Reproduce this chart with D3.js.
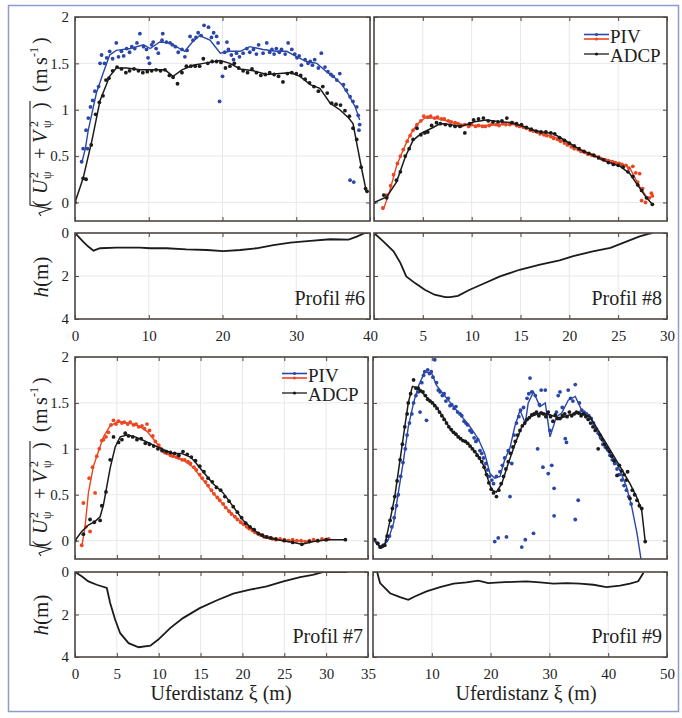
<!DOCTYPE html>
<html>
<head>
<meta charset="utf-8">
<title>Profile PIV / ADCP</title>
<script src="https://cdn.jsdelivr.net/npm/d3@7"></script>
<style>
  body { margin: 0; background: #fff; }
</style>
</head>
<body>
<svg id="chart" width="682" height="718" font-family="Liberation Serif"></svg>
<script>
// ---------- data (x = Uferdistanz in m, v = velocity in m/s, h = depth in m) ----------
var velTicks = [0, 0.5, 1, 1.5, 2];
var depthTicks = [0, 2, 4];
var xTicks6 = [0, 10, 20, 30, 40];
var xTicks8 = [0, 5, 10, 15, 20, 25, 30];
var xTicks7 = [0, 5, 10, 15, 20, 25, 30, 35];
var xTicks9 = [0, 10, 20, 30, 40, 50];

// Profil #6
var p6PivLine = [[0.9,0.42],[1.4,0.58],[1.8,0.78],[2.3,0.96],[2.9,1.18],[3.8,1.39],[4.7,1.59],[5.6,1.64],[7.5,1.66],[9.3,1.70],[10.2,1.66],[11.5,1.73],[12.9,1.72],[14.2,1.66],[14.9,1.63],[15.8,1.72],[16.9,1.80],[18.3,1.75],[19.2,1.66],[19.7,1.61],[21.0,1.63],[22.4,1.63],[23.7,1.68],[25.5,1.65],[27.3,1.63],[28.7,1.63],[30.1,1.57],[31.4,1.52],[32.8,1.50],[34.1,1.41],[35.3,1.34],[36.2,1.27],[37.1,1.16],[38.0,1.03],[38.6,0.89]];
var p6PivPts = [[0.9,0.44],[1.1,0.58],[1.5,0.78],[1.7,0.58],[1.8,0.91],[2.1,1.03],[2.4,1.10],[2.7,1.20],[3.2,1.25],[3.4,1.50],[3.6,1.59],[4.0,1.50],[4.3,1.56],[4.7,1.63],[5.1,1.55],[5.6,1.72],[5.9,1.57],[6.3,1.63],[6.6,1.58],[7.0,1.66],[7.4,1.62],[7.7,1.68],[8.1,1.66],[8.4,1.72],[8.8,1.82],[9.3,1.68],[9.7,1.65],[9.9,1.56],[10.1,1.50],[10.4,1.70],[10.6,1.73],[11.0,1.66],[11.3,1.61],[11.8,1.75],[11.9,1.82],[12.4,1.73],[12.9,1.72],[13.2,1.70],[13.6,1.68],[14.0,1.62],[14.5,1.65],[14.9,1.57],[15.2,1.64],[15.6,1.79],[16.0,1.75],[16.4,1.78],[16.7,1.83],[17.1,1.80],[17.5,1.91],[18.1,1.89],[18.5,1.78],[18.8,1.83],[19.2,1.79],[19.4,1.72],[19.6,1.09],[20.0,1.36],[20.3,1.62],[20.6,1.73],[20.8,1.65],[21.2,1.59],[21.5,1.54],[21.9,1.61],[22.3,1.57],[22.8,1.61],[23.3,1.66],[23.7,1.62],[24.2,1.65],[24.6,1.60],[24.9,1.70],[25.5,1.61],[26.0,1.72],[26.4,1.62],[26.7,1.65],[27.0,1.60],[27.3,1.66],[27.7,1.62],[28.0,1.65],[28.5,1.60],[28.9,1.72],[29.4,1.65],[29.8,1.60],[30.1,1.56],[30.4,1.58],[30.7,1.48],[31.2,1.54],[31.6,1.50],[31.9,1.52],[32.2,1.48],[32.5,1.54],[33.0,1.45],[33.4,1.61],[33.9,1.46],[34.3,1.41],[34.7,1.38],[35.0,1.36],[35.5,1.32],[35.9,1.39],[36.4,1.27],[36.8,1.21],[37.3,1.14],[37.3,0.24],[37.7,1.09],[37.8,0.22],[38.2,1.03],[38.4,0.94],[38.6,0.84],[38.5,0.78]];
var p6AdcpLine = [[0,0],[1.1,0.26],[2.3,0.67],[3.4,1.10],[4.7,1.36],[5.6,1.45],[7.0,1.45],[8.8,1.43],[10.6,1.43],[12.2,1.43],[13.3,1.36],[14.5,1.43],[16.0,1.48],[17.4,1.50],[19.7,1.53],[21.0,1.50],[22.4,1.44],[24.2,1.42],[26.0,1.38],[27.8,1.39],[29.2,1.40],[30.5,1.36],[31.9,1.27],[33.2,1.23],[34.6,1.07],[35.9,1.00],[37.1,0.91],[37.7,0.85],[38.2,0.64],[38.9,0.35],[39.5,0.12]];
var p6AdcpPts = [[0,0],[1.1,0.26],[1.5,0.25],[2.2,0.62],[2.8,0.95],[3.3,1.08],[3.8,1.15],[4.2,1.32],[4.6,1.34],[5.1,1.42],[5.7,1.46],[6.3,1.44],[6.9,1.40],[7.4,1.42],[8.0,1.44],[8.6,1.42],[9.2,1.40],[9.8,1.41],[10.4,1.42],[11.0,1.43],[11.6,1.42],[12.2,1.43],[12.8,1.37],[13.3,1.35],[13.9,1.28],[14.5,1.40],[15.1,1.47],[15.7,1.47],[16.3,1.47],[16.9,1.47],[17.4,1.55],[18.0,1.50],[18.6,1.52],[19.2,1.52],[19.8,1.51],[20.4,1.45],[21.0,1.47],[21.6,1.50],[22.2,1.45],[22.8,1.42],[23.4,1.40],[24.0,1.44],[24.6,1.40],[25.2,1.37],[25.8,1.38],[26.4,1.40],[27.0,1.38],[27.6,1.36],[28.2,1.30],[28.8,1.39],[29.4,1.40],[30.0,1.39],[30.6,1.37],[31.2,1.33],[31.8,1.29],[32.4,1.25],[33.0,1.20],[33.6,1.25],[34.2,1.18],[34.8,1.07],[35.4,1.06],[36.0,1.05],[36.6,0.99],[37.2,0.93],[37.7,0.80],[38.2,0.68],[38.8,0.38],[39.4,0.15],[39.6,0.12]];
var p6Depth = [[0,0],[1.1,0.40],[1.8,0.63],[2.5,0.82],[3.4,0.71],[5.6,0.68],[8.8,0.68],[10.2,0.71],[12.4,0.71],[15.1,0.76],[17.9,0.79],[20.1,0.84],[22.4,0.79],[24.6,0.71],[26.9,0.56],[29.2,0.45],[31.9,0.37],[34.6,0.29],[37.1,0.31],[38.2,0.17],[39.3,0.0],[39.8,0.0]];

// Profil #8
var p8PivLine = [[0.95,-0.08],[1.6,0.12],[2.3,0.39],[3.0,0.57],[3.7,0.73],[4.4,0.84],[5.2,0.91],[6.1,0.91],[7.1,0.89],[8.1,0.86],[9.1,0.84],[10.2,0.83],[11.5,0.83],[12.9,0.84],[14.3,0.84],[15.3,0.82],[16.6,0.76],[18.4,0.71],[20.1,0.62],[21.8,0.54],[23.5,0.47],[25.2,0.42],[26.2,0.37],[27.2,0.17],[28.1,0.03]];
var p8PivPts = [[0.9,-0.06],[1.3,0.08],[1.7,0.18],[2.0,0.30],[2.4,0.42],[2.7,0.50],[3.0,0.57],[3.4,0.66],[3.7,0.72],[4.0,0.78],[4.4,0.84],[4.8,0.88],[5.1,0.93],[5.5,0.92],[5.8,0.93],[6.2,0.91],[6.5,0.92],[6.9,0.90],[7.2,0.90],[7.6,0.88],[7.9,0.87],[8.3,0.86],[8.6,0.85],[9.0,0.83],[9.3,0.84],[9.7,0.82],[10.0,0.84],[10.4,0.82],[10.7,0.83],[11.1,0.82],[11.4,0.82],[11.8,0.83],[12.1,0.85],[12.5,0.84],[12.8,0.83],[13.2,0.85],[13.5,0.84],[13.9,0.84],[14.2,0.86],[14.6,0.83],[14.9,0.82],[15.3,0.81],[15.6,0.80],[16.0,0.78],[16.3,0.77],[16.7,0.76],[17.0,0.74],[17.4,0.73],[17.7,0.72],[18.1,0.71],[18.4,0.69],[18.8,0.68],[19.1,0.66],[19.5,0.64],[19.8,0.62],[20.2,0.60],[20.5,0.58],[20.9,0.57],[21.2,0.55],[21.6,0.54],[21.9,0.52],[22.3,0.51],[22.6,0.50],[23.0,0.49],[23.3,0.47],[23.7,0.46],[24.0,0.45],[24.4,0.44],[24.7,0.43],[25.1,0.42],[25.4,0.41],[25.8,0.40],[26.1,0.37],[26.5,0.39],[26.8,0.32],[27.2,0.31],[27.0,0.22],[27.5,0.15],[27.4,0.02],[27.8,0.00],[28.2,0.05],[28.4,0.10],[28.5,0.07]];
var p8AdcpLine = [[0,0],[1.3,0.06],[2.3,0.22],[3.2,0.49],[4.0,0.67],[4.9,0.75],[5.9,0.80],[6.8,0.85],[7.8,0.84],[8.8,0.82],[9.5,0.84],[10.3,0.87],[11.5,0.89],[12.9,0.87],[14.1,0.86],[15.3,0.82],[16.6,0.77],[18.4,0.74],[19.7,0.66],[21.1,0.57],[22.4,0.51],[23.8,0.44],[25.2,0.39],[26.2,0.31],[27.1,0.17],[27.9,0.05],[28.5,-0.02]];
var p8AdcpPts = [[0,0],[1.0,0.08],[1.3,0.05],[2.3,0.24],[2.7,0.33],[3.2,0.50],[3.6,0.58],[4.0,0.68],[4.4,0.80],[4.8,0.73],[5.2,0.75],[5.5,0.76],[5.9,0.83],[6.4,0.86],[6.8,0.85],[7.3,0.84],[7.8,0.83],[8.3,0.82],[8.8,0.82],[9.3,0.75],[9.8,0.85],[10.2,0.89],[10.7,0.90],[11.2,0.91],[11.7,0.88],[12.2,0.87],[12.7,0.87],[13.1,0.88],[13.6,0.91],[14.1,0.86],[14.6,0.85],[15.1,0.84],[15.6,0.81],[16.1,0.79],[16.6,0.77],[17.1,0.76],[17.6,0.76],[18.1,0.75],[18.5,0.74],[19.0,0.70],[19.5,0.67],[20.0,0.64],[20.5,0.61],[21.0,0.58],[21.5,0.55],[22.0,0.53],[22.5,0.51],[23.0,0.48],[23.5,0.46],[24.0,0.43],[24.5,0.41],[25.0,0.40],[25.5,0.38],[26.0,0.33],[26.5,0.28],[27.0,0.19],[27.4,0.13],[27.9,0.05],[28.5,-0.02]];
var p8Depth = [[0,0],[0.95,0.39],[2.0,0.85],[2.7,1.39],[3.3,2.02],[4.2,2.33],[5.2,2.64],[6.2,2.87],[7.3,2.98],[7.8,2.98],[8.6,2.92],[9.8,2.64],[11.2,2.36],[12.9,2.02],[14.9,1.71],[17.0,1.47],[19.0,1.27],[20.4,1.08],[22.4,0.85],[24.2,0.69],[25.9,0.39],[27.2,0.16],[28.2,0.03],[28.5,0]];

// Profil #7
var p7PivLine = [[0.8,-0.07],[1.2,0.15],[1.6,0.52],[2.2,0.81],[2.8,0.97],[3.4,1.13],[4.2,1.25],[5.2,1.30],[6.4,1.28],[7.6,1.25],[8.6,1.19],[9.6,1.08],[10.6,0.97],[11.7,0.92],[12.9,0.88],[14.1,0.80],[15.3,0.66],[16.5,0.52],[17.7,0.39],[18.9,0.28],[20.1,0.18],[21.3,0.11],[22.9,0.04],[24.5,0.01],[26.1,0.0],[28.0,-0.01],[29.3,0.0],[30.3,0.01]];
var p7PivPts = [[0.8,-0.05],[1.0,0.41],[1.3,0.15],[1.7,0.68],[1.8,0.10],[2.1,0.80],[2.4,0.52],[2.6,0.92],[2.9,1.00],[3.2,1.09],[3.4,1.10],[3.7,1.13],[4.0,1.18],[4.3,1.26],[4.6,1.31],[4.9,1.27],[5.2,1.30],[5.6,1.28],[5.9,1.29],[6.3,1.27],[6.6,1.29],[7.0,1.26],[7.3,1.27],[7.6,1.24],[8.0,1.25],[8.3,1.22],[8.6,1.27],[8.9,1.20],[9.3,1.14],[9.6,1.08],[10.0,1.04],[10.3,1.00],[10.7,0.96],[11.0,0.95],[11.4,0.93],[11.7,0.92],[12.1,0.91],[12.4,0.90],[12.8,0.88],[13.1,0.88],[13.5,0.86],[13.8,0.84],[14.2,0.80],[14.5,0.77],[14.9,0.72],[15.2,0.68],[15.6,0.64],[15.9,0.60],[16.3,0.55],[16.6,0.51],[17.0,0.47],[17.3,0.44],[17.7,0.40],[18.0,0.36],[18.4,0.32],[18.7,0.29],[19.1,0.26],[19.4,0.23],[19.8,0.20],[20.1,0.18],[20.5,0.15],[20.8,0.13],[21.2,0.11],[21.5,0.09],[21.9,0.07],[22.2,0.06],[22.6,0.04],[22.9,0.04],[23.3,0.03],[23.6,0.02],[24.0,0.01],[24.5,0.02],[25.0,0.01],[25.5,0.00],[26.0,0.01],[26.5,0.00],[27.0,0.00],[27.5,-0.01],[28.0,0.00],[28.5,0.01],[29.0,0.00],[29.5,0.02],[30.0,0.01],[30.3,0.02]];
var p7AdcpLine = [[0,0],[0.8,0.10],[1.6,0.17],[2.4,0.21],[3.0,0.26],[3.4,0.39],[3.8,0.59],[4.2,0.79],[4.8,1.02],[5.4,1.13],[6.2,1.15],[7.2,1.13],[8.2,1.09],[9.4,1.04],[10.6,0.99],[11.7,0.95],[12.7,0.95],[13.8,0.91],[14.5,0.84],[15.3,0.75],[16.5,0.62],[17.7,0.52],[18.9,0.37],[20.1,0.22],[21.3,0.12],[22.5,0.04],[24.1,0.01],[26.1,-0.02],[27.1,-0.04],[28.5,-0.01],[30.1,0.01],[32.3,0.01]];
var p7AdcpPts = [[0,0],[1.0,0.07],[1.8,0.23],[2.3,0.20],[3.0,0.22],[3.2,0.38],[3.7,0.53],[4.2,0.88],[4.6,1.13],[5.2,1.07],[5.6,1.10],[6.0,1.17],[6.4,1.14],[6.9,1.13],[7.4,1.10],[7.9,1.11],[8.4,1.06],[8.9,1.05],[9.4,1.03],[9.9,1.00],[10.4,0.98],[10.9,0.97],[11.4,0.96],[11.9,0.95],[12.4,0.93],[12.9,0.97],[13.4,0.94],[13.9,0.91],[14.4,0.87],[14.9,0.81],[15.4,0.75],[15.9,0.68],[16.4,0.64],[16.9,0.58],[17.4,0.55],[17.9,0.48],[18.4,0.43],[18.9,0.37],[19.4,0.31],[19.9,0.25],[20.4,0.19],[20.9,0.15],[21.4,0.12],[21.9,0.08],[22.4,0.06],[22.9,0.04],[23.4,0.03],[24.0,0.02],[25.0,0.00],[26.0,-0.02],[27.1,-0.04],[28.0,-0.01],[29.0,0.0],[30.0,0.01],[32.3,0.01]];
var p7Depth = [[0,0],[0.8,0.20],[1.6,0.44],[2.6,0.60],[3.8,0.75],[4.2,1.46],[4.8,2.25],[5.4,2.88],[6.4,3.35],[7.6,3.54],[9.0,3.47],[9.95,3.18],[11.4,2.63],[12.9,2.17],[14.9,1.70],[16.9,1.34],[18.9,1.02],[20.9,0.83],[22.9,0.68],[24.9,0.44],[26.9,0.24],[28.4,0.13],[29.7,0],[31.0,0],[32.5,0]];

// Profil #9
var p9PivLine = [[0.3,-0.01],[1.5,-0.08],[2.6,0.01],[3.5,0.19],[4.3,0.52],[5.2,0.88],[6.0,1.24],[6.9,1.50],[7.7,1.68],[8.8,1.84],[10.0,1.82],[10.8,1.69],[12.3,1.57],[13.7,1.46],[15.1,1.35],[16.5,1.24],[17.9,1.11],[19.0,0.95],[19.9,0.73],[20.7,0.68],[21.6,0.70],[22.4,0.88],[23.3,1.01],[24.1,1.24],[25.0,1.42],[25.9,1.28],[26.4,1.50],[27.3,1.62],[28.4,1.46],[29.3,1.50],[30.1,1.13],[31.2,1.35],[32.1,1.39],[33.2,1.53],[34.4,1.57],[35.5,1.42],[36.9,1.35],[38.3,1.17],[40.0,0.99],[41.7,0.81],[43.1,0.59],[44.0,0.37],[44.9,0.08],[45.6,-0.21]];
var p9PivPts = [[0.3,0.01],[0.8,-0.03],[1.3,-0.07],[1.8,-0.05],[2.3,0.00],[2.8,0.05],[3.2,0.15],[3.6,0.25],[4.0,0.38],[4.3,0.50],[4.7,0.70],[5.1,0.85],[5.5,1.00],[5.8,1.15],[6.2,1.28],[6.6,1.38],[6.9,1.50],[7.3,1.58],[7.7,1.62],[8.0,1.40],[8.3,1.72],[8.6,1.80],[8.8,1.84],[9.1,1.31],[9.3,1.86],[9.6,1.82],[9.9,1.84],[10.2,1.78],[10.5,1.97],[10.8,1.72],[11.1,1.64],[11.4,1.62],[11.8,1.58],[12.1,1.60],[12.4,1.52],[12.8,1.55],[13.1,1.47],[13.4,1.48],[13.8,1.44],[14.1,1.46],[14.4,1.40],[14.8,1.38],[15.1,1.36],[15.5,1.30],[15.8,1.28],[16.1,1.26],[16.5,1.20],[16.8,1.18],[17.2,1.12],[17.5,1.08],[17.8,1.10],[18.2,0.98],[18.5,0.95],[18.8,0.90],[19.2,0.84],[19.5,0.77],[19.8,0.70],[20.2,0.66],[20.5,0.62],[20.7,-0.01],[21.0,0.70],[21.3,0.03],[21.6,0.75],[22.0,0.82],[22.4,0.90],[22.7,0.04],[23.0,0.98],[23.3,0.48],[23.6,0.84],[24.0,1.15],[24.4,1.28],[24.8,1.35],[25.1,1.42],[25.3,-0.07],[25.6,1.45],[25.9,0.01],[26.2,1.55],[26.5,1.60],[26.7,1.77],[27.0,1.62],[27.3,0.08],[27.6,1.58],[28.0,1.00],[28.3,1.48],[28.6,1.64],[28.9,0.80],[29.3,1.64],[29.6,1.38],[29.8,0.73],[30.1,1.20],[30.4,0.82],[30.8,0.57],[30.8,0.27],[31.2,1.40],[31.5,1.58],[31.8,1.62],[32.2,1.45],[32.7,1.11],[32.9,1.07],[33.2,1.64],[33.6,1.55],[34.0,1.52],[34.4,1.70],[34.4,0.23],[34.9,0.44],[35.1,1.50],[35.5,1.42],[35.9,1.40],[36.3,1.38],[36.7,1.36],[37.1,1.33],[37.5,1.28],[37.9,1.22],[38.3,1.17],[38.7,1.12],[39.1,1.05],[39.5,1.02],[39.9,0.99],[40.3,0.93],[40.7,0.88],[41.1,0.84],[41.5,0.78],[41.9,0.72],[42.3,0.66],[42.7,0.60],[43.1,0.55],[43.5,0.48],[43.9,0.40]];
var p9AdcpLine = [[0.2,0.01],[1.2,-0.07],[2.0,-0.05],[2.9,0.22],[3.7,0.48],[4.6,0.88],[5.4,1.24],[6.0,1.50],[6.7,1.68],[7.7,1.66],[9.0,1.57],[10.5,1.48],[11.9,1.35],[13.4,1.19],[14.8,1.11],[16.2,1.06],[17.6,0.95],[18.8,0.82],[19.6,0.66],[20.2,0.55],[21.0,0.53],[21.9,0.62],[23.0,0.84],[24.2,1.06],[25.3,1.24],[26.7,1.35],[28.4,1.39],[30.1,1.37],[31.8,1.33],[33.5,1.37],[35.2,1.39],[36.9,1.35],[38.6,1.17],[40.3,0.99],[42.0,0.81],[43.7,0.62],[44.8,0.48],[45.7,0.33],[46.3,-0.01]];
var p9AdcpPts = [[0.2,0.01],[0.8,-0.03],[1.2,-0.07],[1.6,-0.06],[2.0,-0.05],[2.4,0.05],[2.9,0.22],[3.3,0.35],[3.7,0.48],[4.1,0.65],[4.6,0.88],[5.0,1.05],[5.4,1.24],[5.8,1.38],[6.0,1.50],[6.4,1.60],[6.9,1.75],[7.3,1.66],[7.7,1.66],[8.1,1.63],[8.5,1.62],[8.9,1.58],[9.3,1.54],[9.7,1.52],[10.1,1.50],[10.5,1.47],[10.9,1.44],[11.3,1.40],[11.7,1.36],[12.1,1.32],[12.5,1.28],[12.9,1.24],[13.3,1.21],[13.7,1.18],[14.1,1.16],[14.5,1.13],[14.9,1.11],[15.3,1.09],[15.7,1.08],[16.1,1.06],[16.5,1.03],[16.9,1.00],[17.3,0.97],[17.7,0.93],[18.1,0.90],[18.5,0.86],[18.9,0.80],[19.3,0.72],[19.7,0.63],[20.1,0.56],[20.5,0.52],[21.0,0.48],[21.4,0.55],[21.8,0.62],[22.2,0.70],[22.6,0.78],[23.0,0.86],[23.4,0.95],[23.8,1.02],[24.2,1.08],[24.6,1.15],[25.0,1.20],[25.4,1.25],[25.8,1.28],[26.2,1.32],[26.6,1.34],[27.0,1.37],[27.4,1.38],[27.8,1.40],[28.2,1.36],[28.6,1.39],[29.0,1.38],[29.4,1.35],[29.8,1.40],[30.2,1.35],[30.6,1.30],[31.0,1.37],[31.4,1.33],[31.8,1.33],[32.2,1.36],[32.6,1.38],[33.0,1.35],[33.4,1.40],[33.8,1.36],[34.2,1.38],[34.6,1.40],[35.0,1.39],[35.4,1.36],[35.8,1.38],[36.2,1.35],[36.6,1.32],[37.0,1.28],[37.4,1.24],[37.8,1.20],[38.3,1.00],[38.6,1.15],[39.0,1.10],[39.4,1.05],[39.8,1.01],[40.2,0.97],[40.6,0.92],[41.0,0.87],[41.5,0.71],[41.9,0.82],[42.3,0.76],[42.7,0.72],[43.1,0.66],[43.3,0.75],[43.7,0.46],[44.1,0.55],[44.5,0.50],[44.9,0.44],[45.3,0.38],[45.7,0.35],[46.3,-0.01]];
var p9Depth = [[0.7,0],[1.2,0.52],[2.9,1.00],[4.6,1.18],[6.0,1.31],[7.1,1.15],[9.1,0.91],[11.4,0.71],[13.7,0.55],[15.9,0.49],[17.9,0.41],[19.6,0.52],[21.6,0.49],[23.9,0.46],[26.1,0.44],[28.4,0.49],[30.7,0.55],[32.9,0.52],[35.2,0.55],[37.5,0.60],[39.7,0.71],[42.0,0.64],[43.7,0.55],[45.1,0.44],[46.0,0.04]];

// ---------- layout ----------
var SERIF = "Liberation Serif";
var INK = "#1e1e1e";
var BLUE = "#2a47a8", RED = "#ec4621", BLACK = "#1b1b1b", BOX = "#4e4744";

var panels = [
  {id: 6, left: 75,  right: 370, vt: 17,  vb: 221, dt: 233, db: 319, xmax: 40, ticks: xTicks6, showY: true,  hideZero: false, tickY: 340,
   pivColor: BLUE, piv: p6PivPts, pivLine: p6PivLine, adcp: p6AdcpPts, adcpLine: p6AdcpLine, depth: p6Depth, label: "Profil #6"},
  {id: 8, left: 374, right: 667, vt: 17,  vb: 221, dt: 233, db: 319, xmax: 30, ticks: xTicks8, showY: false, hideZero: true,  tickY: 340,
   pivColor: RED,  piv: p8PivPts, pivLine: p8PivLine, adcp: p8AdcpPts, adcpLine: p8AdcpLine, depth: p8Depth, label: "Profil #8"},
  {id: 7, left: 75,  right: 368, vt: 357, vb: 559, dt: 572, db: 657, xmax: 35, ticks: xTicks7, showY: true,  hideZero: false, tickY: 678,
   pivColor: RED,  piv: p7PivPts, pivLine: p7PivLine, adcp: p7AdcpPts, adcpLine: p7AdcpLine, depth: p7Depth, label: "Profil #7"},
  {id: 9, left: 373, right: 667, vt: 357, vb: 559, dt: 572, db: 657, xmax: 50, ticks: xTicks9, showY: false, hideZero: true,  tickY: 678,
   pivColor: BLUE, piv: p9PivPts, pivLine: p9PivLine, adcp: p9AdcpPts, adcpLine: p9AdcpLine, depth: p9Depth, label: "Profil #9"}
];

var svg = d3.select("#chart");
svg.append("rect").attr("x", 8.5).attr("y", 5.5).attr("width", 670).attr("height", 706)
  .attr("fill", "none").attr("stroke", "#8c9dcb").attr("stroke-width", 1.5);
var defs = svg.append("defs");

function box(g, x0, y0, x1, y1) {
  g.append("rect").attr("x", x0).attr("y", y0).attr("width", x1 - x0).attr("height", y1 - y0)
    .attr("fill", "none").attr("stroke", BOX).attr("stroke-width", 1.6);
}

function styleAxis(a) {
  a.attr("font-family", SERIF);
  a.select(".domain").remove();
  a.selectAll(".tick line").attr("stroke", BOX).attr("stroke-width", 1);
  a.selectAll(".tick text").attr("font-family", SERIF).attr("font-size", 15).attr("fill", INK);
}

function drawPanel(p) {
  var g = svg.append("g");
  var x = d3.scaleLinear().domain([0, p.xmax]).range([p.left, p.right]);
  var yv = d3.scaleLinear().domain([-0.2, 2]).range([p.vb, p.vt]);
  var yd = d3.scaleLinear().domain([0, 4]).range([p.dt, p.db]);

  // grid
  var grid = g.append("g").attr("stroke", "#e8e8e8").attr("stroke-width", 1);
  p.ticks.forEach(function(t) {
    grid.append("line").attr("x1", x(t)).attr("x2", x(t)).attr("y1", p.vt).attr("y2", p.vb);
    grid.append("line").attr("x1", x(t)).attr("x2", x(t)).attr("y1", p.dt).attr("y2", p.db);
  });
  velTicks.forEach(function(t) {
    grid.append("line").attr("x1", p.left).attr("x2", p.right).attr("y1", yv(t)).attr("y2", yv(t));
  });
  grid.append("line").attr("x1", p.left).attr("x2", p.right).attr("y1", yd(2)).attr("y2", yd(2));

  defs.append("clipPath").attr("id", "cv" + p.id).append("rect")
    .attr("x", p.left).attr("y", p.vt).attr("width", p.right - p.left).attr("height", p.vb - p.vt);
  defs.append("clipPath").attr("id", "cd" + p.id).append("rect")
    .attr("x", p.left).attr("y", p.dt).attr("width", p.right - p.left).attr("height", p.db - p.dt);

  var lv = d3.line().x(function(d) { return x(d[0]); }).y(function(d) { return yv(d[1]); });
  var ld = d3.line().x(function(d) { return x(d[0]); }).y(function(d) { return yd(d[1]); });

  var gv = g.append("g").attr("clip-path", "url(#cv" + p.id + ")");
  gv.selectAll("circle.piv").data(p.piv).enter().append("circle").attr("class", "piv")
    .attr("cx", function(d) { return x(d[0]); }).attr("cy", function(d) { return yv(d[1]); })
    .attr("r", 1.9).attr("fill", p.pivColor);
  gv.append("path").datum(p.pivLine).attr("d", lv).attr("fill", "none")
    .attr("stroke", p.pivColor).attr("stroke-width", 1.4);
  gv.selectAll("circle.adcp").data(p.adcp).enter().append("circle").attr("class", "adcp")
    .attr("cx", function(d) { return x(d[0]); }).attr("cy", function(d) { return yv(d[1]); })
    .attr("r", 1.9).attr("fill", BLACK);
  gv.append("path").datum(p.adcpLine).attr("d", lv).attr("fill", "none")
    .attr("stroke", BLACK).attr("stroke-width", 1.5);

  g.append("g").attr("clip-path", "url(#cd" + p.id + ")")
    .append("path").datum(p.depth).attr("d", ld).attr("fill", "none")
    .attr("stroke", BLACK).attr("stroke-width", 1.8);

  // axes (ticks pointing inward, on all four sides)
  var fmtX = function(d) { return (p.hideZero && d === 0) ? "" : d; };
  styleAxis(g.append("g").attr("transform", "translate(0," + p.vb + ")")
    .call(d3.axisBottom(x).tickValues(p.ticks).tickSizeInner(-4).tickFormat("")));
  styleAxis(g.append("g").attr("transform", "translate(0," + p.vt + ")")
    .call(d3.axisTop(x).tickValues(p.ticks).tickSizeInner(-4).tickFormat("")));
  styleAxis(g.append("g").attr("transform", "translate(0," + p.dt + ")")
    .call(d3.axisTop(x).tickValues(p.ticks).tickSizeInner(-4).tickFormat("")));
  styleAxis(g.append("g").attr("transform", "translate(0," + p.db + ")")
    .call(d3.axisBottom(x).tickValues(p.ticks).tickSizeInner(-4).tickPadding(p.tickY - p.db - 10).tickFormat(fmtX)));

  styleAxis(g.append("g").attr("transform", "translate(" + p.left + ",0)")
    .call(d3.axisLeft(yv).tickValues(velTicks).tickSizeInner(-4).tickPadding(6)
      .tickFormat(p.showY ? d3.format("") : "")));
  styleAxis(g.append("g").attr("transform", "translate(" + p.right + ",0)")
    .call(d3.axisRight(yv).tickValues(velTicks).tickSizeInner(-4).tickFormat("")));
  styleAxis(g.append("g").attr("transform", "translate(" + p.left + ",0)")
    .call(d3.axisLeft(yd).tickValues(depthTicks).tickSizeInner(-4).tickPadding(6)
      .tickFormat(p.showY ? d3.format("") : "")));
  styleAxis(g.append("g").attr("transform", "translate(" + p.right + ",0)")
    .call(d3.axisRight(yd).tickValues(depthTicks).tickSizeInner(-4).tickFormat("")));

  box(g, p.left, p.vt, p.right, p.vb);
  box(g, p.left, p.dt, p.right, p.db);

  g.append("text").attr("x", p.right - 5).attr("y", p.db - 14).attr("text-anchor", "end")
    .attr("font-family", SERIF).attr("fill", INK).attr("font-size", 20).text(p.label);
}

panels.forEach(drawPanel);

// legends
function legend(x0, y0) {
  var g = svg.append("g");
  var rows = [[BLUE, y0 - 8.5], [RED, y0 - 4]];
  rows.forEach(function(r) {
    g.append("line").attr("x1", x0).attr("x2", x0 + 25).attr("y1", r[1]).attr("y2", r[1])
      .attr("stroke", r[0]).attr("stroke-width", 1.6);
    g.append("circle").attr("cx", x0 + 12.5).attr("cy", r[1]).attr("r", 1.6).attr("fill", r[0]);
  });
  g.append("text").attr("x", x0 + 26).attr("y", y0).attr("font-family", SERIF).attr("fill", INK)
    .attr("font-size", 19).text("PIV");
  g.append("line").attr("x1", x0).attr("x2", x0 + 25).attr("y1", y0 + 11).attr("y2", y0 + 11)
    .attr("stroke", BLACK).attr("stroke-width", 1.3);
  g.append("circle").attr("cx", x0 + 12.5).attr("cy", y0 + 11).attr("r", 1.6).attr("fill", BLACK);
  g.append("text").attr("x", x0 + 26).attr("y", y0 + 19).attr("font-family", SERIF).attr("fill", INK)
    .attr("font-size", 19).text("ADCP");
}
legend(584, 43);
legend(282, 382);

// y labels
function velLabel(top) {
  var oy = top + 100;
  var g = svg.append("g").attr("transform", "translate(47," + oy + ") rotate(-90)");
  var glyphs = [
    {t: "(", x: -90}, {t: "U", x: -77, it: true}, {t: "2", x: -61, sup: true}, {t: "\u03c8", x: -62, sub: true},
    {t: "+", x: -42}, {t: "V", x: -26, it: true}, {t: "2", x: -10, sup: true}, {t: "\u03c8", x: -11, sub: true},
    {t: ")", x: 8}, {t: "(", x: 25}, {t: "m", x: 33}, {t: "s", x: 52}, {t: "-1", x: 60, sup: true}, {t: ")", x: 73}
  ];
  glyphs.forEach(function(c) {
    var t = g.append("text").attr("x", c.x).attr("y", c.sup ? -9 : (c.sub ? 4 : 0))
      .attr("font-family", SERIF).attr("fill", INK)
      .attr("font-size", (c.sup || c.sub) ? 12 : 20).text(c.t);
    if (c.it) t.attr("font-style", "italic");
  });
  g.append("path").attr("d", "M-99,-6 L-96,-8 L-92,4 L-88,-17 L16,-17")
    .attr("fill", "none").attr("stroke", INK).attr("stroke-width", 1.1);
}
velLabel(17);
velLabel(357);

function depthLabel(cy) {
  var t = svg.append("text").attr("font-family", SERIF).attr("fill", INK)
    .attr("transform", "translate(48," + cy + ") rotate(-90)")
    .attr("text-anchor", "middle").attr("font-size", 21);
  t.append("tspan").attr("font-style", "italic").text("h");
  t.append("tspan").text("(m)");
}
depthLabel(277);
depthLabel(615);

// x labels
svg.append("text").attr("x", 221).attr("y", 700).attr("font-family", SERIF).attr("fill", INK)
  .attr("text-anchor", "middle").attr("font-size", 20).text("Uferdistanz \u03be (m)");
svg.append("text").attr("x", 526).attr("y", 700).attr("font-family", SERIF).attr("fill", INK)
  .attr("text-anchor", "middle").attr("font-size", 20).text("Uferdistanz \u03be (m)");
</script>
</body>
</html>
